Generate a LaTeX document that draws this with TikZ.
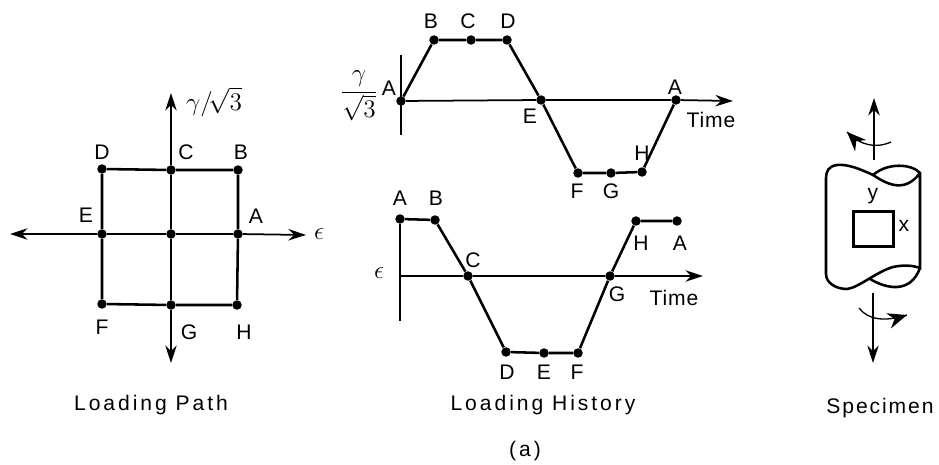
\documentclass[tikz,border=0pt]{standalone}
\usepackage{fontspec}
\setmainfont[LetterSpace=4]{Liberation Sans}
\newfontfamily\captionfont[LetterSpace=14]{Liberation Sans}
\usetikzlibrary{arrows.meta,decorations.markings}
\tikzset{
  ptdot/.style={circle,fill=black,inner sep=0pt,minimum size=5.4pt},
  lbl/.style={inner sep=0pt,font=\fontsize{12}{14}\selectfont},
  sym/.style={inner sep=0pt,font=\fontsize{14.4}{16}\selectfont},
  captext/.style={inner sep=0pt,font=\fontsize{12}{14}\selectfont\captionfont},
  heavy/.style={line width=1.45pt},
  axisline/.style={line width=1pt},
  axarrow/.style={axisline,-{Stealth[length=10pt,width=6.5pt]}},
  twist/.style={line width=0.75pt,postaction={decorate},
    decoration={markings,mark=at position #1 with {\arrow{Stealth[length=11pt,width=9pt]}}}}
}

\begin{document}
\begin{tikzpicture}[x=0.02cm,y=-0.02cm]
  \useasboundingbox (0,0) rectangle (939,465);
  % loading path
  \node[ptdot] (pA) at (238,234) {};
  \node[ptdot] (pB) at (238,170) {};
  \node[ptdot] (pC) at (171,170) {};
  \node[ptdot] (pD) at (102,169) {};
  \node[ptdot] (pE) at (102,234) {};
  \node[ptdot] (pF) at (102,304) {};
  \node[ptdot] (pG) at (171,305) {};
  \node[ptdot] (pH) at (237,305) {};
  \node[ptdot] (pO) at (171,234) {};
  \coordinate (pT) at (171,93);
  \coordinate (pU) at (171,363);
  \coordinate (pL) at (10,234);
  \coordinate (pR) at (306,235);
  \draw[heavy] (pD) -- (pC) -- (pB) -- (pA) -- (pH) -- (pG) -- (pF) -- (pE) -- (pD);
  \draw[axisline] (pC) -- (pO) -- (pG);
  \draw[axisline] (pE) -- (pO) -- (pA);
  \draw[axarrow] (pC) -- (pT);
  \draw[axarrow] (pG) -- (pU);
  \draw[axarrow] (pE) -- (pL);
  \draw[axarrow] (pA) -- (pR);
  \node[lbl] (pla) at (256,216) {A};
  \node[lbl] (plb) at (241,152) {B};
  \node[lbl] (plc) at (186,152) {C};
  \node[lbl] (pld) at (102,152) {D};
  \node[lbl] (ple) at (86,215) {E};
  \node[lbl] (plf) at (102,327) {F};
  \node[lbl] (plg) at (189,332) {G};
  \node[lbl] (plh) at (244,332) {H};
  \node[sym] (pleps) at (319,234) {$\epsilon$};
  \node[sym] (plgam) at (214,102) {$\gamma/\!\sqrt{3}$};
  \node[captext] (pcap) at (151,405) {Loading Path};
  % shear history
  \node[ptdot] (sA) at (401,101) {};
  \node[ptdot] (sB) at (434,40) {};
  \node[ptdot] (sC) at (471,40) {};
  \node[ptdot] (sD) at (507,40) {};
  \node[ptdot] (sE) at (541,100) {};
  \node[ptdot] (sF) at (578,173) {};
  \node[ptdot] (sG) at (611,173) {};
  \node[ptdot] (sH) at (642,172) {};
  \node[ptdot] (sA2) at (676,100) {};
  \coordinate (sT) at (401,55);
  \coordinate (sU) at (401,135);
  \coordinate (sR) at (733,101);
  \draw[axisline] (sT) -- (sU);
  \draw[axisline] (sA) -- (sE) -- (sA2);
  \draw[axarrow] (sA2) -- (sR);
  \draw[heavy] (sA) -- (sB) -- (sC) -- (sD) -- (sE) -- (sF) -- (sG) -- (sH) -- (sA2);
  \node[lbl] (sla) at (389,88) {A};
  \node[lbl] (slb) at (431,21) {B};
  \node[lbl] (slc) at (468,21) {C};
  \node[lbl] (sld) at (508,21) {D};
  \node[lbl] (sle) at (530,116) {E};
  \node[lbl] (slf) at (577,191) {F};
  \node[lbl] (slg) at (611,191) {G};
  \node[lbl] (slh) at (642,153) {H};
  \node[lbl] (sla2) at (675,87) {A};
  \node[lbl] (sltime) at (711,120) {Time};
  \node[sym] (slgam) at (359,96) {\nulldelimiterspace=0pt $\displaystyle\frac{\gamma}{\sqrt{3}}$};
  % strain history
  \node[ptdot] (nA) at (400,219) {};
  \node[ptdot] (nB) at (435,220) {};
  \node[ptdot] (nC) at (468,276) {};
  \node[ptdot] (nD) at (506,352) {};
  \node[ptdot] (nE) at (544,353) {};
  \node[ptdot] (nF) at (578,353) {};
  \node[ptdot] (nG) at (610,276) {};
  \node[ptdot] (nH) at (636,221) {};
  \node[ptdot] (nA2) at (677,221) {};
  \coordinate (nO) at (400,276);
  \coordinate (nU) at (400,321);
  \coordinate (nR) at (703,276);
  \draw[axisline] (nA) -- (nU);
  \draw[axisline] (nO) -- (nC) -- (nG);
  \draw[axarrow] (nG) -- (nR);
  \draw[heavy] (nA) -- (nB) -- (nC) -- (nD) -- (nE) -- (nF) -- (nG) -- (nH) -- (nA2);
  \node[lbl] (nla) at (400,198) {A};
  \node[lbl] (nlb) at (436,198) {B};
  \node[lbl] (nlc) at (473,260) {C};
  \node[lbl] (nld) at (507,372) {D};
  \node[lbl] (nle) at (544,372) {E};
  \node[lbl] (nlf) at (577,372) {F};
  \node[lbl] (nlg) at (617,294) {G};
  \node[lbl] (nlh) at (641,243) {H};
  \node[lbl] (nla2) at (680,243) {A};
  \node[sym] (nleps) at (379,273) {$\epsilon$};
  \node[lbl] (nltime) at (674,298) {Time};
  \node[captext] (ncap) at (543,405) {Loading History};
  \node[captext] (fig) at (525,451) {(a)};
  % specimen
  \draw[heavy,line cap=round] (873,175) .. controls (860,169) and (848,164) .. (837,165)
    .. controls (829,166) and (826,171) .. (826,178) -- (826,274)
    .. controls (826,283) and (836,289) .. (847,289)
    .. controls (858,288) and (876,272) .. (893,267)
    .. controls (902,265) and (912,265) .. (920,268) -- (920,173)
    .. controls (912,164) and (888,162) .. (873,175)
    .. controls (888,185) and (905,193) .. (920,173);
  \draw[heavy] (870,279) .. controls (885,288) and (910,295) .. (920,268);
  \node[draw,heavy,inner sep=0pt,minimum width=0.8cm,minimum height=0.7cm] (win) at (873.5,229) {};
  \node[lbl] (wly) at (873,196) {y};
  \node[lbl] (wlx) at (904,226) {x};
  \coordinate (aT0) at (874,160);
  \coordinate (aT1) at (874,98);
  \coordinate (aB0) at (873,293);
  \coordinate (aB1) at (873,363);
  \draw[axarrow] (aT0) -- (aT1);
  \draw[axarrow] (aB0) -- (aB1);
  \coordinate (tw0) at (891,142);
  \coordinate (tw1) at (847,132);
  \coordinate (tw2) at (859,308);
  \coordinate (tw3) at (907,315);
  \draw[twist=1] (tw0) .. controls (875,149) and (860,145) .. (tw1);
  \draw[twist=1] (tw2) .. controls (868,320) and (885,322) .. (tw3);
  \node[lbl] (scap) at (880,408) {\addfontfeature{LetterSpace=9}Specimen};
\end{tikzpicture}
\end{document}
